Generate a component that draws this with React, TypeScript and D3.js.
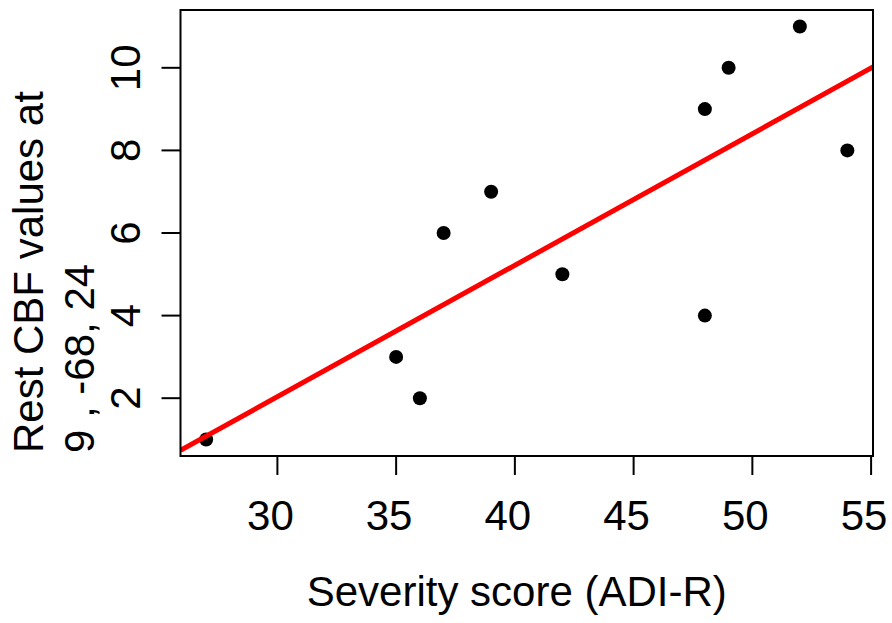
import React from "react";
import * as d3 from "d3";

const severity = [27, 35, 36, 37, 39, 42, 48, 48, 49, 52, 54];
const restCBF = [1, 3, 2, 6, 7, 5, 4, 9, 10, 11, 8];
const xTicks = [30, 35, 40, 45, 50, 55];
const yTicks = [2, 4, 6, 8, 10];
const xTitle = "Severity score (ADI-R)";
const yTitleLines = ["Rest CBF values at", "9 , -68, 24"];

const W = 892;
const H = 623;
const left = 180.5;
const right = 873;
const top = 10;
const bottom = 456;
const FONT = "'Liberation Sans', Arial, Helvetica, sans-serif";
const FS = 42;

function extendRange(vals: number[]): [number, number] {
  const [a, b] = d3.extent(vals) as [number, number];
  const pad = (b - a) * 0.04;
  return [a - pad, b + pad];
}

export default function App() {
  const x = d3.scaleLinear().domain(extendRange(severity)).range([left, right]);
  const y = d3.scaleLinear().domain(extendRange(restCBF)).range([bottom, top]);

  // least squares fit
  const mx = d3.mean(severity)!;
  const my = d3.mean(restCBF)!;
  let sxy = 0;
  let sxx = 0;
  severity.forEach((v, i) => {
    sxy += (v - mx) * (restCBF[i] - my);
    sxx += (v - mx) * (v - mx);
  });
  const slope = sxy / sxx;
  const intercept = my - slope * mx;
  const [x0, x1] = x.domain();
  const fitLine = d3
    .line<number>()
    .x((d) => x(d))
    .y((d) => y(intercept + slope * d));

  return (
    <svg
      width={W}
      height={H}
      style={{ position: "absolute", left: 0, top: 0, background: "#fff" }}
      fontFamily={FONT}
    >
      <defs>
        <clipPath id="plotclip">
          <rect x={left} y={top} width={right - left} height={bottom - top} />
        </clipPath>
      </defs>
      <rect x={0} y={0} width={W} height={H} fill="#fff" />
      {restCBF.map((v, i) => (
        <circle key={i} cx={x(severity[i])} cy={y(v)} r={7} fill="#000" />
      ))}
      <path
        d={fitLine([x0, x1]) || ""}
        stroke="#ff0000"
        strokeWidth={5}
        fill="none"
        clipPath="url(#plotclip)"
      />
      <rect
        x={left}
        y={top}
        width={right - left}
        height={bottom - top}
        fill="none"
        stroke="#000"
        strokeWidth={2}
      />
      {xTicks.map((t) => (
        <g key={t}>
          <line x1={x(t)} x2={x(t)} y1={bottom} y2={bottom + 19} stroke="#000" strokeWidth={2} />
          <text x={x(t) - 7} y={530} textAnchor="middle" fontSize={FS} fill="#000">
            {t}
          </text>
        </g>
      ))}
      {yTicks.map((t) => (
        <g key={t}>
          <line x1={left - 19} x2={left} y1={y(t)} y2={y(t)} stroke="#000" strokeWidth={2} />
          <text
            transform={`translate(140,${y(t)}) rotate(-90)`}
            textAnchor="middle"
            fontSize={FS}
            fill="#000"
          >
            {t}
          </text>
        </g>
      ))}
      <text x={(left + right) / 2 - 10} y={606} textAnchor="middle" fontSize={FS} fill="#000">
        {xTitle}
      </text>
      {yTitleLines.map((s, i) => (
        <text
          key={i}
          transform={`translate(${43 + i * 51},453) rotate(-90)`}
          textAnchor="start"
          fontSize={FS}
          fill="#000"
        >
          {s}
        </text>
      ))}
    </svg>
  );
}
